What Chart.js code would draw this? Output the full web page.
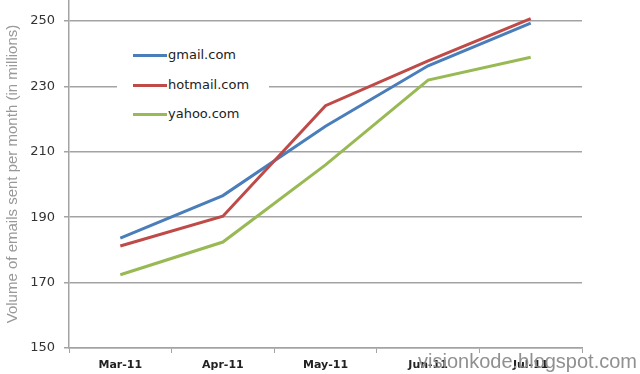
<!DOCTYPE html>
<html>
<head>
<meta charset="utf-8">
<script src="https://cdn.jsdelivr.net/npm/chart.js@4"></script>
<style>
    html, body { margin: 0; padding: 0; background: #fff; }
    #wrap { position: relative; width: 640px; height: 374px; }
    #legend {
        position: absolute; left: 117px; top: 38px; width: 152px; height: 92px;
        background: #fff; font-family: "DejaVu Sans", sans-serif; font-size: 13px; color: #222;
    }
    #legend .item { position: absolute; left: 16px; height: 20px; line-height: 20px; }
    #legend .swatch { display: inline-block; width: 34px; height: 3px; vertical-align: middle; margin-right: 1px; }
    #mark {
        position: absolute; left: 418px; top: 350px;
        font-family: "Liberation Sans", sans-serif; font-size: 20px; color: #909090;
    }
</style>
</head>
<body>
<div id="wrap">
    <canvas id="mailChart" width="640" height="374"></canvas>
    <div id="legend"></div>
    <div id="mark">visionkode.blogspot.com</div>
</div>
<script>
// chart data
const months = ['Mar-11', 'Apr-11', 'May-11', 'Jun-11', 'Jul-11'];
const gmail = [183.6, 196.6, 217.8, 236.3, 249.3];
const hotmail = [181.2, 190.3, 224.1, 237.8, 250.7];
const yahoo = [172.4, 182.4, 206.0, 231.9, 238.9];
const yTicks = [150, 170, 190, 210, 230, 250];

const series = [
    { label: 'gmail.com', data: gmail, color: '#4A7EBB', order: 2 },
    { label: 'hotmail.com', data: hotmail, color: '#BE4B48', order: 1 },
    { label: 'yahoo.com', data: yahoo, color: '#98B954', order: 0 }
];

// legend inside the plot, like the original
const legend = document.getElementById('legend');
legend.innerHTML = series.map((s, i) => `
    <div class="item" style="top:${7 + i * 29.5}px">
        <span class="swatch" style="background:${s.color}"></span>${s.label}
    </div>`).join('');

const gridColor = '#a3a3a3';

const ctx = document.getElementById('mailChart').getContext('2d');
new Chart(ctx, {
    type: 'line',
    data: {
        labels: months,
        datasets: series.map(s => ({
            label: s.label,
            data: s.data,
            borderColor: s.color,
            backgroundColor: s.color,
            borderWidth: 3,
            pointRadius: 0,
            tension: 0,
            order: s.order
        }))
    },
    options: {
        responsive: false,
        animation: false,
        layout: { padding: { top: 0, right: 58, bottom: 0, left: 0 } },
        plugins: {
            legend: { display: false },
            tooltip: { enabled: false }
        },
        scales: {
            x: {
                offset: true,
                grid: { display: true, drawOnChartArea: false, offset: true, tickLength: 5, color: gridColor, tickColor: gridColor },
                border: { color: gridColor, width: 1.5 },
                ticks: {
                    color: '#222',
                    font: { family: 'DejaVu Sans', size: 11, weight: 'bold' },
                    padding: 6,
                    maxRotation: 0
                },
                afterFit: scale => { scale.height = 26; scale.paddingLeft = 0; scale.paddingRight = 0; }
            },
            y: {
                min: 150,
                max: 256.4,
                afterBuildTicks: scale => { scale.ticks = yTicks.map(v => ({ value: v })); },
                grid: { color: gridColor, lineWidth: 1.5, tickLength: 5, tickColor: gridColor },
                border: { color: gridColor, width: 1.5 },
                ticks: {
                    color: '#333',
                    font: { family: 'DejaVu Sans', size: 13 },
                    padding: 9
                },
                title: {
                    display: true,
                    text: 'Volume of emails sent per month (in millions)',
                    color: '#999',
                    font: { family: 'Liberation Sans', size: 15 },
                    padding: { top: 4, bottom: 6 }
                },
                afterFit: scale => { scale.width = 69; scale.paddingTop = 0; scale.paddingBottom = 0; }
            }
        }
    }
});
</script>
</body>
</html>
